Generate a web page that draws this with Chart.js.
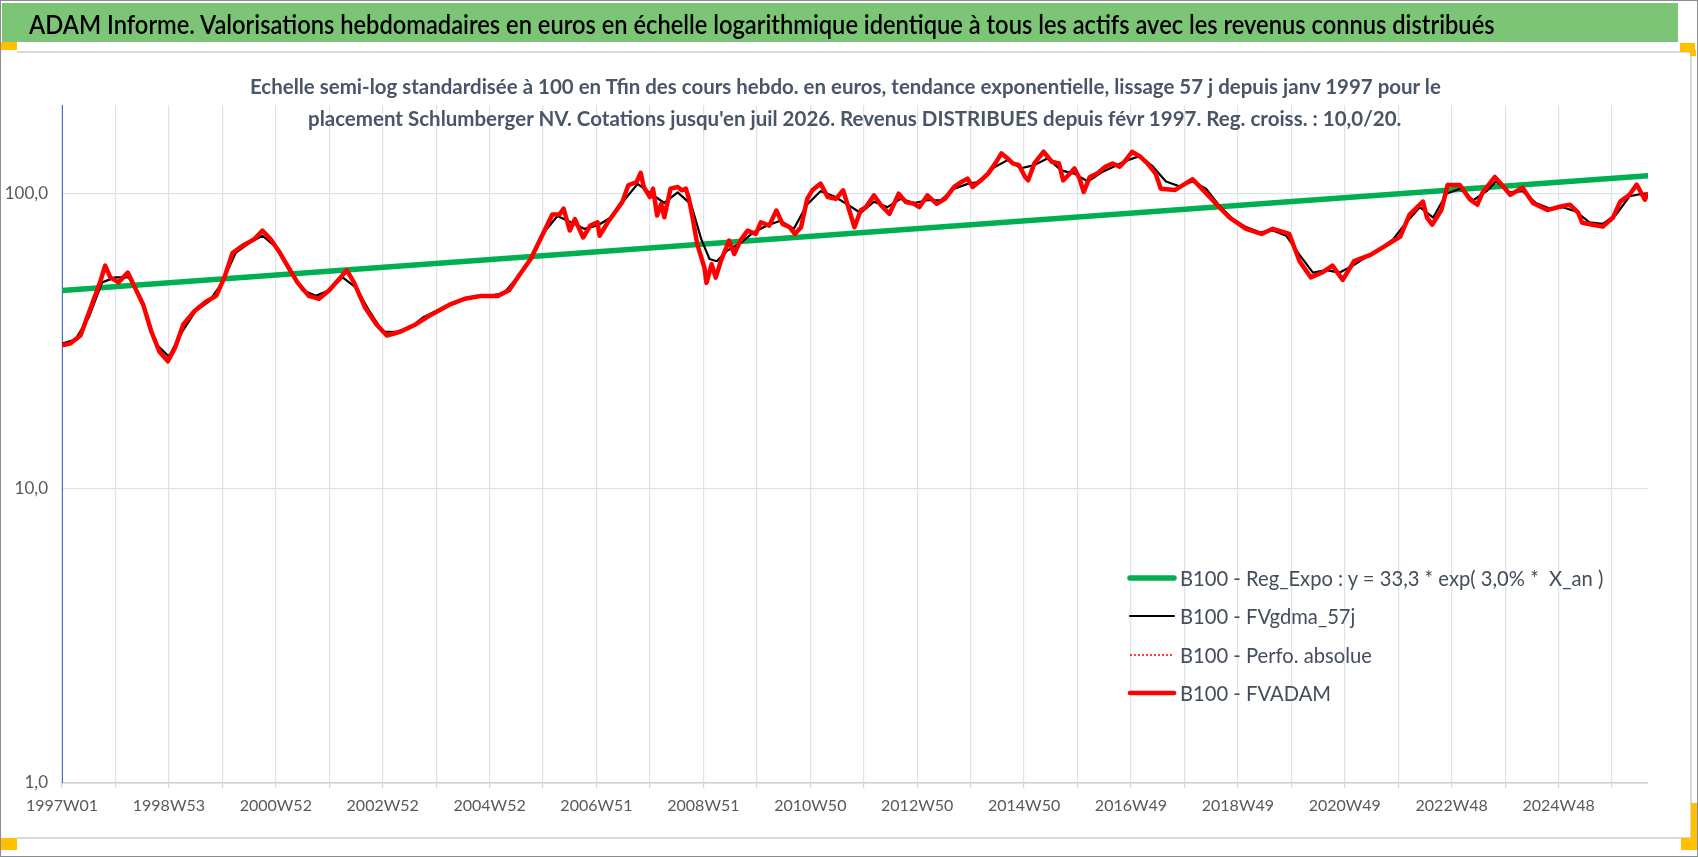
<!DOCTYPE html>
<html>
<head>
<meta charset="utf-8">
<script src="https://cdn.jsdelivr.net/npm/chart.js@4.4.1/dist/chart.umd.min.js"></script>
<style>
html, body { margin: 0; padding: 0; background: #fff; }
#page { position: relative; width: 1698px; height: 857px; overflow: hidden; font-family: 'Lato', sans-serif; }
.deco { position: absolute; }
#outer { left: 0; top: 0; width: 1696px; height: 855px; border: 1px solid #8c8c8c; }
#titleBar { left: 2px; top: 3px; width: 1676px; height: 39px; background: #7cc576; }
.ln { background: #d9d9d9; }
.mk { background: #ffc000; }
#chart { position: absolute; left: 0; top: 0; z-index: 1; }
.txt { position: absolute; white-space: pre; transform-origin: 0 50%; line-height: 1; z-index: 2; }
#title { left: 29px; top: 10px; font-size: 27px; font-weight: 600; color: #000; }
.sub { font-size: 20px; font-weight: bold; color: #4a5567; }
#legend .row { position: absolute; left: 1127px; height: 24px; z-index: 2; }
#legend svg { position: absolute; left: 0; top: 0; }
#legend .lab { position: absolute; left: 53px; top: 1px; font-size: 21px; color: #434d5c; white-space: pre; transform-origin: 0 50%; line-height: 1; }
</style>
</head>
<body>
<div id="page">
  <div class="deco" id="outer"></div>
  <div class="deco" id="titleBar"></div>
  <div class="deco ln" style="left:17px;top:51px;width:1675px;height:2px"></div>
  <div class="deco ln" style="left:1690px;top:51px;width:2px;height:788px"></div>
  <div class="deco ln" style="left:17px;top:837px;width:1675px;height:2px"></div>
  <div class="deco mk" style="left:1px;top:42px;width:16px;height:8px"></div>
  <div class="deco mk" style="left:1680px;top:43px;width:15px;height:9px"></div>
  <div class="deco mk" style="left:1690px;top:50px;width:6px;height:6px"></div>
  <div class="deco mk" style="left:1px;top:838px;width:16px;height:12px"></div>
  <div class="deco mk" style="left:1691px;top:803px;width:6px;height:36px"></div>
  <div class="deco mk" style="left:1681px;top:838px;width:16px;height:12px"></div>

  <canvas id="chart" width="1698" height="857"></canvas>

  <div class="txt" id="title">ADAM Informe. Valorisations hebdomadaires en euros en échelle logarithmique identique à tous les actifs avec les revenus connus distribués</div>
  <div class="txt sub" id="sub1" style="left:250px;top:76px">Echelle semi-log standardisée à 100 en Tfin des cours hebdo. en euros, tendance exponentielle, lissage 57 j depuis janv 1997 pour le</div>
  <div class="txt sub" id="sub2" style="left:308px;top:108px">placement Schlumberger NV. Cotations jusqu'en juil 2026. Revenus DISTRIBUES depuis févr 1997. Reg. croiss. : 10,0/20.</div>
  <div id="legend"></div>
</div>

<script>
// axis labels
var xTickLabels = ['1997W01', '1998W53', '2000W52', '2002W52', '2004W52', '2006W51', '2008W51',
    '2010W50', '2012W50', '2014W50', '2016W49', '2018W49', '2020W49', '2022W48', '2024W48'];
var yTickValues = [1, 10, 100];
var lastWeek = 1543;

// B100 - Reg_Expo (start / end of the trend)
var regWeeks = [0, 1543];
var regValues = [46.9, 115.1];

// B100 - FVADAM (weekly valuation)
var adamWeeks = [0, 8, 18, 29, 37, 42, 47, 55, 64, 71, 79, 87, 95, 103, 110, 118, 129, 140, 150, 158,
    166, 177, 187, 195, 203, 212, 218, 229, 240, 250, 260, 271, 277, 284, 295, 306, 316, 329, 344, 360,
    377, 392, 408, 424, 435, 445, 456, 467, 477, 484,
    488, 494, 499, 507, 514, 521, 523, 531, 538, 545, 551, 559, 563, 566, 572, 575, 579, 583, 586, 592,
    599, 603, 607, 610, 614, 618, 625, 627, 632, 636, 641, 649, 654, 660, 667, 675, 680, 688, 695, 701,
    708, 713, 719, 725, 730, 738, 745, 753, 760, 766, 771, 777, 782, 790, 797, 805, 814, 821, 829, 834,
    842, 851, 859, 868, 875, 881, 886, 894, 901, 908, 914, 920, 925, 931, 937, 940, 946, 955, 963, 970,
    974, 979, 985, 990, 994, 1000, 1007, 1015, 1022, 1029, 1035, 1041, 1049, 1056, 1064, 1069,
    1083, 1100, 1110, 1126, 1136, 1152, 1167, 1178, 1194, 1204, 1215, 1226, 1236, 1246, 1257, 1273, 1289,
    1302, 1311, 1324, 1328, 1333, 1342, 1348, 1360, 1370, 1377, 1382, 1394, 1399, 1409, 1421, 1431,
    1445, 1457, 1467, 1475, 1479, 1489, 1499, 1509, 1516, 1525, 1532, 1540, 1543];
var adamValues = [30.6, 31, 33, 42, 50, 57, 52, 50, 54, 48, 42, 34, 29, 27, 30, 36, 40, 43, 45, 52,
    63, 67, 70, 75, 70, 63, 58, 50, 45, 44, 47, 52, 55, 50, 41, 36, 33, 34, 36, 39,
    42, 44, 45, 45, 47, 53, 60, 72, 85, 85,
    89, 75, 82, 71, 78, 80, 72, 80, 86.5, 93.6, 106.8, 109.6, 117.7, 105.4, 97.4, 104, 84.3, 92.4, 83.2, 104,
    105.4, 102.7, 104, 96, 81, 67.4, 56.1, 49.8, 57.6, 51.9, 59.1, 69.3, 62.4, 69.3, 74.9, 73, 80, 77.9, 87.7, 79,
    76.9, 73, 76.9, 96, 102.7, 108.2, 97.4, 96, 102.7, 87.7, 76.9, 87.7, 90, 98.7, 91.2, 85.4, 100, 93.6, 92.4, 90,
    98.7, 92.4, 96, 105.4, 109.6, 112.5, 105.4, 111, 117, 126.7, 137, 131.7, 126.7, 125, 114, 111, 126.7, 138.8, 128.4, 126.7,
    111, 115.5, 121.8, 112.5, 101.3, 114, 117, 123.4, 126.7, 123.4, 130, 138.8, 133.5, 126.7, 117, 104,
    103, 112, 103, 90, 83, 76, 73, 76, 73, 59, 52, 54, 57, 51, 59, 62, 67,
    71.5, 84.9, 94, 82.9, 78.5, 88, 107, 107, 95.4, 91.8, 100.8, 114, 109, 99.2, 104.8, 93,
    88, 90.3, 91.8, 86.2, 79.7, 78.5, 77.3, 83, 94, 99.2, 107.3, 95.4, 100.8];

// B100 - FVgdma_57j (smoothed line)
var gdmaWeeks = [0, 13, 26, 39, 52, 65, 78, 91, 104, 117, 130, 143, 156, 169, 182, 195, 208, 221, 234, 247,
    260, 273, 286, 299, 312, 325, 338, 351, 364, 377, 390, 403, 416, 430, 443, 456, 469, 482, 495, 508,
    521, 534, 547, 560, 573, 586, 599, 612, 622, 630, 637, 647, 660, 673, 686, 699, 712, 725, 738, 751,
    764, 777, 790, 803, 816, 829, 842, 855, 868, 881, 894, 907, 920, 933, 946, 959, 972, 985, 998, 1011,
    1024, 1037, 1048, 1061, 1074, 1087, 1100, 1113, 1126, 1139, 1152, 1165, 1178, 1191, 1204, 1217, 1230, 1243, 1256, 1269,
    1282, 1295, 1308, 1321, 1334, 1347, 1360, 1373, 1386, 1395, 1408, 1421, 1434, 1447, 1460, 1473, 1486, 1499, 1512, 1525,
    1538, 1543];
var gdmaValues = [31, 32, 38, 50, 52, 52, 43, 31, 28, 34, 40, 43, 50, 63, 68, 72, 66, 55, 47, 45,
    47, 52, 48, 40, 34, 34, 35, 38, 40, 42, 44, 45, 45, 46, 52, 60, 74, 84, 80, 76,
    78, 83, 95, 108, 100, 93, 101, 92, 70, 60, 59, 64, 68, 74, 78, 81, 76, 92, 102, 98,
    92, 86, 94, 90, 96, 93, 95, 95, 104, 108, 110, 123, 130, 122, 125, 132, 120, 117, 110, 118,
    124, 130, 134, 124, 110, 106, 110, 104, 91, 82, 77, 74, 75, 72, 62, 54, 55, 54, 57, 61,
    65, 70, 80, 90, 83, 100, 104, 95, 102, 110, 101, 102, 93, 89, 90, 87, 80, 79, 85, 98,
    100, 100];

var toPoints = function (weeks, values) {
    var pts = [];
    for (var i = 0; i < weeks.length; i++) {
        pts.push({ x: weeks[i], y: values[i] });
    }
    return pts;
}

var tickFont = { family: "'Lato', sans-serif", size: 16 };
var gridColor = '#dfe2e8';

var ctx = document.getElementById('chart');
var chart = new Chart(ctx, {
    type: 'line',
    data: {
        datasets: [{
            label: 'B100 - Reg_Expo : y = 33,3 * exp( 3,0% *  X_an )',
            data: toPoints(regWeeks, regValues),
            borderColor: '#00b050',
            borderWidth: 5.5,
            borderCapStyle: 'round',
            order: 4
        }, {
            label: 'B100 - FVgdma_57j',
            data: toPoints(gdmaWeeks, gdmaValues),
            borderColor: '#000000',
            borderWidth: 2.2,
            order: 3
        }, {
            label: 'B100 - Perfo. absolue',
            data: toPoints(adamWeeks, adamValues),
            borderColor: '#ff0000',
            borderWidth: 1.5,
            borderDash: [2, 2],
            order: 2
        }, {
            label: 'B100 - FVADAM',
            data: toPoints(adamWeeks, adamValues),
            borderColor: '#ff0000',
            borderWidth: 4.5,
            order: 1
        }]
    },
    options: {
        responsive: false,
        animation: false,
        elements: {
            point: { radius: 0 },
            line: { tension: 0, borderJoinStyle: 'round' }
        },
        layout: { padding: { left: 0, top: 105, right: 50, bottom: 30 } },
        scales: {
            x: {
                type: 'linear',
                min: 0,
                max: lastWeek,
                afterBuildTicks: function (scale) {
                    var t = [];
                    for (var w = 0; w <= lastWeek; w += 52) t.push({ value: w });
                    scale.ticks = t;
                },
                afterFit: function (scale) { scale.height = 44; },
                grid: { color: gridColor, lineWidth: 1.2, drawTicks: true, tickLength: 5, tickColor: '#d5d8de' },
                border: { color: '#d0d0d0', width: 1.5 },
                ticks: {
                    autoSkip: false,
                    maxRotation: 0,
                    padding: 8,
                    color: '#595959',
                    font: tickFont,
                    callback: function (v) { return v % 104 === 0 ? (xTickLabels[v / 104] || '') : ''; }
                }
            },
            y: {
                type: 'logarithmic',
                min: 1,
                max: 200,
                afterBuildTicks: function (scale) {
                    scale.ticks = yTickValues.map(function (v) { return { value: v }; });
                },
                afterFit: function (scale) { scale.width = 62; },
                grid: { color: gridColor, lineWidth: 1.2, drawTicks: false },
                border: { color: '#4472c4', width: 1 },
                ticks: {
                    padding: 14,
                    color: '#595959',
                    font: { family: "'Lato', sans-serif", size: 17 },
                    callback: function (v) { return v.toFixed(1).replace('.', ','); }
                }
            }
        },
        plugins: {
            legend: { display: false },
            tooltip: { enabled: false }
        }
    }
});

// legend built from the chart's own dataset styles
var legendRows = [578, 616, 655, 693];
var buildLegend = function (chart) {
    var items = Chart.defaults.plugins.legend.labels.generateLabels(chart);
    items.sort(function (a, b) { return a.datasetIndex - b.datasetIndex; });
    var box = document.getElementById('legend');
    for (var i = 0; i < items.length; i++) {
        var it = items[i];
        var row = document.createElement('div');
        row.className = 'row';
        row.style.top = (legendRows[i] - 12) + 'px';
        var dash = (it.lineDash && it.lineDash.length) ? it.lineDash.join(',') : 'none';
        var cap = dash === 'none' ? 'round' : 'butt';
        row.innerHTML = '<svg width="50" height="24"><line x1="3" y1="12" x2="47" y2="12" stroke="' + it.strokeStyle +
            '" stroke-width="' + it.lineWidth + '" stroke-dasharray="' + dash + '" stroke-linecap="' + cap + '"/></svg>';
        var lab = document.createElement('div');
        lab.className = 'lab';
        lab.textContent = it.text;
        row.appendChild(lab);
        box.appendChild(row);
    }
}
buildLegend(chart);

var fitWidth = function (el, target) {
    var w = el.offsetWidth;
    if (w > 0) el.style.transform = 'scaleX(' + (target / w) + ')';
    return target / w;
}

var fitAll = function () {
    fitWidth(document.getElementById('title'), 1466);
    fitWidth(document.getElementById('sub1'), 1191);
    fitWidth(document.getElementById('sub2'), 1093);
    var labs = document.querySelectorAll('#legend .lab');
    var k = 423 / labs[0].offsetWidth;
    for (var i = 0; i < labs.length; i++) labs[i].style.transform = 'scaleX(' + k + ')';
}
fitAll();
if (document.fonts && document.fonts.ready) document.fonts.ready.then(fitAll);
</script>
</body>
</html>
